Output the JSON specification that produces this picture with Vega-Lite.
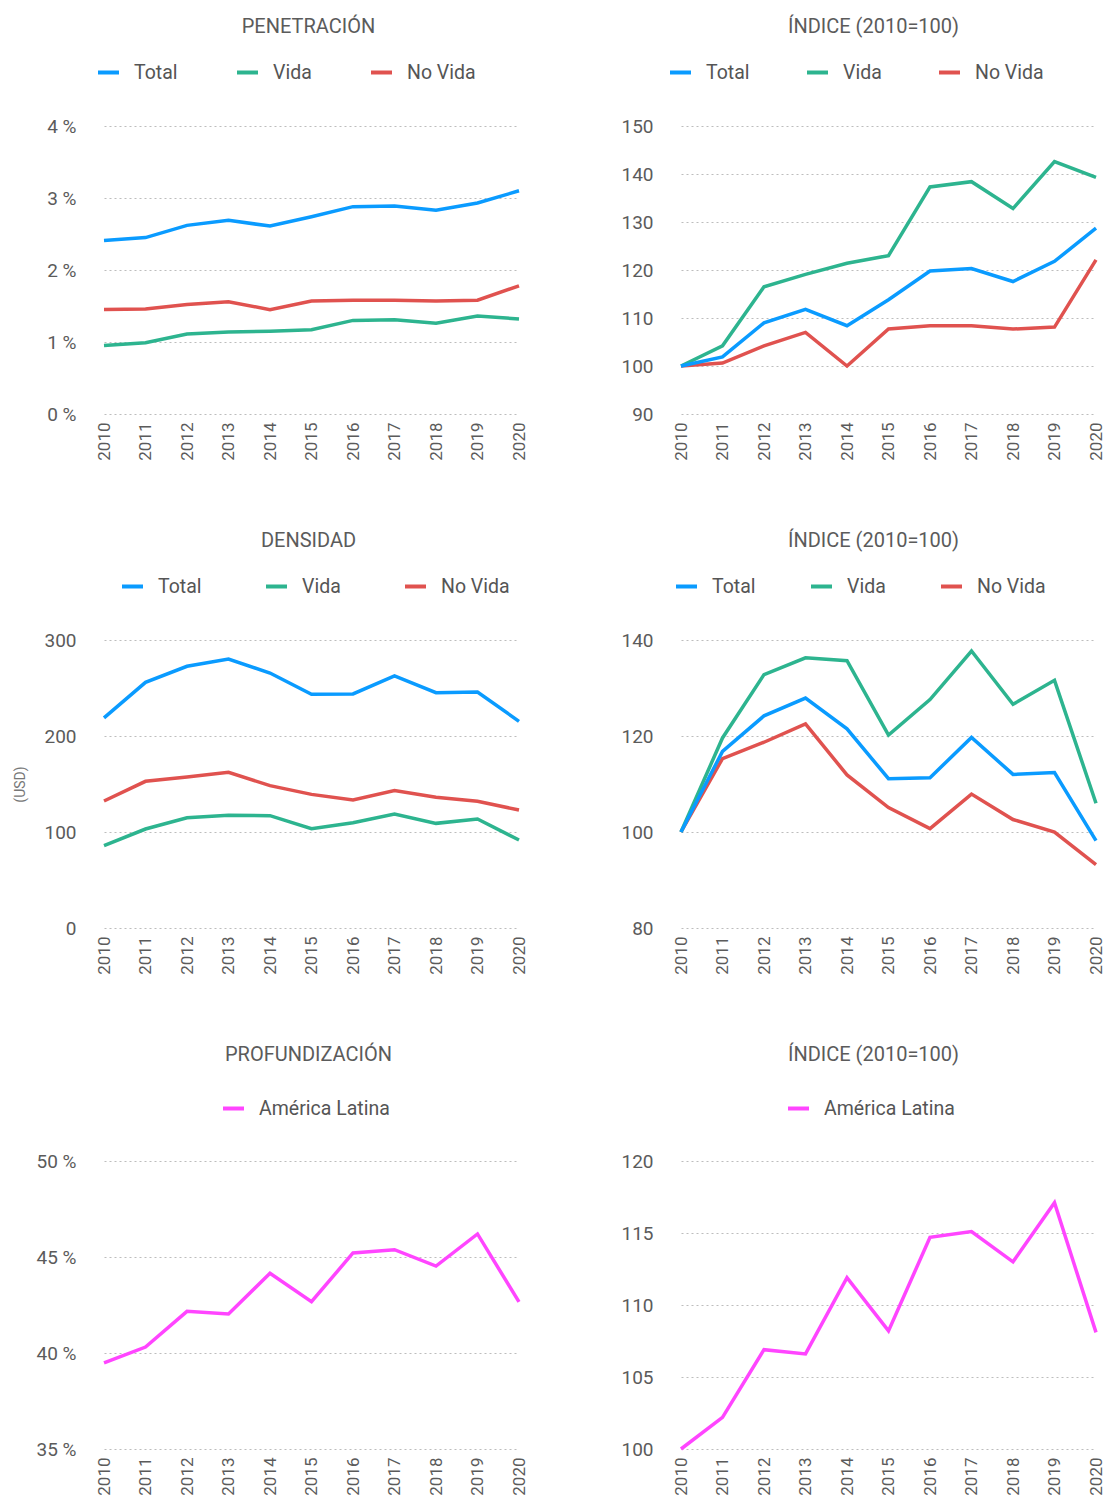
{
  "$schema": "https://vega.github.io/schema/vega-lite/v6.json",
  "background": "white",
  "padding": {"left": 13, "top": 17, "right": 0, "bottom": 0},
  "columns": 2,
  "spacing": {"row": 70, "column": 93},
  "align": "each",
  "datasets": {
    "pen": [
      {"year": 2010, "serie": "No Vida", "value": 1.45}, {"year": 2011, "serie": "No Vida", "value": 1.46}, {"year": 2012, "serie": "No Vida", "value": 1.52}, {"year": 2013, "serie": "No Vida", "value": 1.56}, {"year": 2014, "serie": "No Vida", "value": 1.45}, {"year": 2015, "serie": "No Vida", "value": 1.57}, {"year": 2016, "serie": "No Vida", "value": 1.58}, {"year": 2017, "serie": "No Vida", "value": 1.58}, {"year": 2018, "serie": "No Vida", "value": 1.57}, {"year": 2019, "serie": "No Vida", "value": 1.58}, {"year": 2020, "serie": "No Vida", "value": 1.78},
      {"year": 2010, "serie": "Vida", "value": 0.95}, {"year": 2011, "serie": "Vida", "value": 0.99}, {"year": 2012, "serie": "Vida", "value": 1.11}, {"year": 2013, "serie": "Vida", "value": 1.14}, {"year": 2014, "serie": "Vida", "value": 1.15}, {"year": 2015, "serie": "Vida", "value": 1.17}, {"year": 2016, "serie": "Vida", "value": 1.30}, {"year": 2017, "serie": "Vida", "value": 1.31}, {"year": 2018, "serie": "Vida", "value": 1.26}, {"year": 2019, "serie": "Vida", "value": 1.36}, {"year": 2020, "serie": "Vida", "value": 1.32},
      {"year": 2010, "serie": "Total", "value": 2.41}, {"year": 2011, "serie": "Total", "value": 2.45}, {"year": 2012, "serie": "Total", "value": 2.62}, {"year": 2013, "serie": "Total", "value": 2.69}, {"year": 2014, "serie": "Total", "value": 2.61}, {"year": 2015, "serie": "Total", "value": 2.74}, {"year": 2016, "serie": "Total", "value": 2.88}, {"year": 2017, "serie": "Total", "value": 2.89}, {"year": 2018, "serie": "Total", "value": 2.83}, {"year": 2019, "serie": "Total", "value": 2.93}, {"year": 2020, "serie": "Total", "value": 3.10}
    ],
    "penIdx": [
      {"year": 2010, "serie": "No Vida", "value": 100}, {"year": 2011, "serie": "No Vida", "value": 100.6}, {"year": 2012, "serie": "No Vida", "value": 104.2}, {"year": 2013, "serie": "No Vida", "value": 107.0}, {"year": 2014, "serie": "No Vida", "value": 100.0}, {"year": 2015, "serie": "No Vida", "value": 107.7}, {"year": 2016, "serie": "No Vida", "value": 108.4}, {"year": 2017, "serie": "No Vida", "value": 108.4}, {"year": 2018, "serie": "No Vida", "value": 107.7}, {"year": 2019, "serie": "No Vida", "value": 108.1}, {"year": 2020, "serie": "No Vida", "value": 122.1},
      {"year": 2010, "serie": "Vida", "value": 100}, {"year": 2011, "serie": "Vida", "value": 104.2}, {"year": 2012, "serie": "Vida", "value": 116.5}, {"year": 2013, "serie": "Vida", "value": 119.1}, {"year": 2014, "serie": "Vida", "value": 121.4}, {"year": 2015, "serie": "Vida", "value": 123.0}, {"year": 2016, "serie": "Vida", "value": 137.3}, {"year": 2017, "serie": "Vida", "value": 138.4}, {"year": 2018, "serie": "Vida", "value": 132.8}, {"year": 2019, "serie": "Vida", "value": 142.6}, {"year": 2020, "serie": "Vida", "value": 139.3},
      {"year": 2010, "serie": "Total", "value": 100}, {"year": 2011, "serie": "Total", "value": 101.9}, {"year": 2012, "serie": "Total", "value": 109.0}, {"year": 2013, "serie": "Total", "value": 111.8}, {"year": 2014, "serie": "Total", "value": 108.4}, {"year": 2015, "serie": "Total", "value": 113.8}, {"year": 2016, "serie": "Total", "value": 119.8}, {"year": 2017, "serie": "Total", "value": 120.3}, {"year": 2018, "serie": "Total", "value": 117.6}, {"year": 2019, "serie": "Total", "value": 121.8}, {"year": 2020, "serie": "Total", "value": 128.7}
    ],
    "den": [
      {"year": 2010, "serie": "No Vida", "value": 132.3}, {"year": 2011, "serie": "No Vida", "value": 152.8}, {"year": 2012, "serie": "No Vida", "value": 157.3}, {"year": 2013, "serie": "No Vida", "value": 162.2}, {"year": 2014, "serie": "No Vida", "value": 148.3}, {"year": 2015, "serie": "No Vida", "value": 139.2}, {"year": 2016, "serie": "No Vida", "value": 133.3}, {"year": 2017, "serie": "No Vida", "value": 143.1}, {"year": 2018, "serie": "No Vida", "value": 136.1}, {"year": 2019, "serie": "No Vida", "value": 132.0}, {"year": 2020, "serie": "No Vida", "value": 122.9},
      {"year": 2010, "serie": "Vida", "value": 85.8}, {"year": 2011, "serie": "Vida", "value": 103.1}, {"year": 2012, "serie": "Vida", "value": 114.9}, {"year": 2013, "serie": "Vida", "value": 117.4}, {"year": 2014, "serie": "Vida", "value": 117.0}, {"year": 2015, "serie": "Vida", "value": 103.5}, {"year": 2016, "serie": "Vida", "value": 109.7}, {"year": 2017, "serie": "Vida", "value": 118.8}, {"year": 2018, "serie": "Vida", "value": 109.0}, {"year": 2019, "serie": "Vida", "value": 113.5}, {"year": 2020, "serie": "Vida", "value": 91.7},
      {"year": 2010, "serie": "Total", "value": 218.8}, {"year": 2011, "serie": "Total", "value": 255.9}, {"year": 2012, "serie": "Total", "value": 272.6}, {"year": 2013, "serie": "Total", "value": 280.2}, {"year": 2014, "serie": "Total", "value": 265.6}, {"year": 2015, "serie": "Total", "value": 243.4}, {"year": 2016, "serie": "Total", "value": 243.8}, {"year": 2017, "serie": "Total", "value": 262.5}, {"year": 2018, "serie": "Total", "value": 245.1}, {"year": 2019, "serie": "Total", "value": 245.8}, {"year": 2020, "serie": "Total", "value": 215.3}
    ],
    "denIdx": [
      {"year": 2010, "serie": "No Vida", "value": 100}, {"year": 2011, "serie": "No Vida", "value": 115.3}, {"year": 2012, "serie": "No Vida", "value": 118.7}, {"year": 2013, "serie": "No Vida", "value": 122.5}, {"year": 2014, "serie": "No Vida", "value": 111.9}, {"year": 2015, "serie": "No Vida", "value": 105.1}, {"year": 2016, "serie": "No Vida", "value": 100.7}, {"year": 2017, "serie": "No Vida", "value": 107.9}, {"year": 2018, "serie": "No Vida", "value": 102.6}, {"year": 2019, "serie": "No Vida", "value": 100.0}, {"year": 2020, "serie": "No Vida", "value": 93.2},
      {"year": 2010, "serie": "Vida", "value": 100}, {"year": 2011, "serie": "Vida", "value": 119.6}, {"year": 2012, "serie": "Vida", "value": 132.8}, {"year": 2013, "serie": "Vida", "value": 136.3}, {"year": 2014, "serie": "Vida", "value": 135.7}, {"year": 2015, "serie": "Vida", "value": 120.2}, {"year": 2016, "serie": "Vida", "value": 127.6}, {"year": 2017, "serie": "Vida", "value": 137.7}, {"year": 2018, "serie": "Vida", "value": 126.6}, {"year": 2019, "serie": "Vida", "value": 131.6}, {"year": 2020, "serie": "Vida", "value": 106.0},
      {"year": 2010, "serie": "Total", "value": 100}, {"year": 2011, "serie": "Total", "value": 116.8}, {"year": 2012, "serie": "Total", "value": 124.2}, {"year": 2013, "serie": "Total", "value": 127.9}, {"year": 2014, "serie": "Total", "value": 121.5}, {"year": 2015, "serie": "Total", "value": 111.1}, {"year": 2016, "serie": "Total", "value": 111.3}, {"year": 2017, "serie": "Total", "value": 119.7}, {"year": 2018, "serie": "Total", "value": 112.0}, {"year": 2019, "serie": "Total", "value": 112.4}, {"year": 2020, "serie": "Total", "value": 98.2}
    ],
    "prof": [
      {"year": 2010, "serie": "América Latina", "value": 39.48}, {"year": 2011, "serie": "América Latina", "value": 40.31}, {"year": 2012, "serie": "América Latina", "value": 42.17}, {"year": 2013, "serie": "América Latina", "value": 42.03}, {"year": 2014, "serie": "América Latina", "value": 44.15}, {"year": 2015, "serie": "América Latina", "value": 42.67}, {"year": 2016, "serie": "América Latina", "value": 45.21}, {"year": 2017, "serie": "América Latina", "value": 45.38}, {"year": 2018, "serie": "América Latina", "value": 44.53}, {"year": 2019, "serie": "América Latina", "value": 46.20}, {"year": 2020, "serie": "América Latina", "value": 42.66}
    ],
    "profIdx": [
      {"year": 2010, "serie": "América Latina", "value": 100}, {"year": 2011, "serie": "América Latina", "value": 102.2}, {"year": 2012, "serie": "América Latina", "value": 106.9}, {"year": 2013, "serie": "América Latina", "value": 106.6}, {"year": 2014, "serie": "América Latina", "value": 111.9}, {"year": 2015, "serie": "América Latina", "value": 108.2}, {"year": 2016, "serie": "América Latina", "value": 114.7}, {"year": 2017, "serie": "América Latina", "value": 115.1}, {"year": 2018, "serie": "América Latina", "value": 113.0}, {"year": 2019, "serie": "América Latina", "value": 117.1}, {"year": 2020, "serie": "América Latina", "value": 108.1}
    ]
  },
  "concat": [
    {
      "title": {"text": "PENETRACIÓN", "dx": -3},
      "width": 415, "height": 288,
      "data": {"name": "pen"},
      "mark": {"type": "line", "strokeWidth": 3.5},
      "encoding": {
        "x": {"field": "year", "type": "ordinal", "scale": {"type": "point", "padding": 0}, "axis": {"title": null}},
        "y": {"field": "value", "type": "quantitative", "scale": {"domain": [0, 4]}, "axis": {"title": null, "values": [0, 1, 2, 3, 4], "labelExpr": "datum.value + ' %'"}},
        "color": {"field": "serie", "type": "nominal", "scale": {"domain": ["Total", "Vida", "No Vida"], "range": ["#0A9BFF", "#2DB48F", "#E0524F"]}, "legend": {"legendX": -8, "legendY": -66, "columnPadding": 51}}
      }
    },
    {
      "title": {"text": "ÍNDICE (2010=100)", "dx": -15},
      "width": 415, "height": 288,
      "data": {"name": "penIdx"},
      "mark": {"type": "line", "strokeWidth": 3.5},
      "encoding": {
        "x": {"field": "year", "type": "ordinal", "scale": {"type": "point", "padding": 0}, "axis": {"title": null}},
        "y": {"field": "value", "type": "quantitative", "scale": {"domain": [90, 150]}, "axis": {"title": null, "values": [90, 100, 110, 120, 130, 140, 150]}},
        "color": {"field": "serie", "type": "nominal", "scale": {"domain": ["Total", "Vida", "No Vida"], "range": ["#0A9BFF", "#2DB48F", "#E0524F"]}, "legend": {"legendX": -13, "legendY": -66, "columnPadding": 49}}
      }
    },
    {
      "title": {"text": "DENSIDAD", "dx": -3},
      "width": 415, "height": 288,
      "data": {"name": "den"},
      "mark": {"type": "line", "strokeWidth": 3.5},
      "encoding": {
        "x": {"field": "year", "type": "ordinal", "scale": {"type": "point", "padding": 0}, "axis": {"title": null}},
        "y": {"field": "value", "type": "quantitative", "scale": {"domain": [0, 300]}, "axis": {"title": "(USD)", "titleFontSize": 14, "titleFontWeight": "normal", "titleColor": "#777777", "titlePadding": 16, "values": [0, 100, 200, 300]}},
        "color": {"field": "serie", "type": "nominal", "scale": {"domain": ["Total", "Vida", "No Vida"], "range": ["#0A9BFF", "#2DB48F", "#E0524F"]}, "legend": {"legendX": 16, "legendY": -66, "columnPadding": 56}}
      }
    },
    {
      "title": {"text": "ÍNDICE (2010=100)", "dx": -15},
      "width": 415, "height": 288,
      "data": {"name": "denIdx"},
      "mark": {"type": "line", "strokeWidth": 3.5},
      "encoding": {
        "x": {"field": "year", "type": "ordinal", "scale": {"type": "point", "padding": 0}, "axis": {"title": null}},
        "y": {"field": "value", "type": "quantitative", "scale": {"domain": [80, 140]}, "axis": {"title": null, "values": [80, 100, 120, 140]}},
        "color": {"field": "serie", "type": "nominal", "scale": {"domain": ["Total", "Vida", "No Vida"], "range": ["#0A9BFF", "#2DB48F", "#E0524F"]}, "legend": {"legendX": -7, "legendY": -66, "columnPadding": 47}}
      }
    },
    {
      "title": {"text": "PROFUNDIZACIÓN", "dx": -3, "offset": 31},
      "width": 415, "height": 288,
      "data": {"name": "prof"},
      "mark": {"type": "line", "strokeWidth": 3.5},
      "encoding": {
        "x": {"field": "year", "type": "ordinal", "scale": {"type": "point", "padding": 0}, "axis": {"title": null}},
        "y": {"field": "value", "type": "quantitative", "scale": {"domain": [35, 50]}, "axis": {"title": null, "values": [35, 40, 45, 50], "labelExpr": "datum.value + ' %'"}},
        "color": {"field": "serie", "type": "nominal", "scale": {"domain": ["América Latina"], "range": ["#FF45FF"]}, "legend": {"legendX": 117, "legendY": -65}}
      }
    },
    {
      "title": {"text": "ÍNDICE (2010=100)", "dx": -15, "offset": 31},
      "width": 415, "height": 288,
      "data": {"name": "profIdx"},
      "mark": {"type": "line", "strokeWidth": 3.5},
      "encoding": {
        "x": {"field": "year", "type": "ordinal", "scale": {"type": "point", "padding": 0}, "axis": {"title": null}},
        "y": {"field": "value", "type": "quantitative", "scale": {"domain": [100, 120]}, "axis": {"title": null, "values": [100, 105, 110, 115, 120]}},
        "color": {"field": "serie", "type": "nominal", "scale": {"domain": ["América Latina"], "range": ["#FF45FF"]}, "legend": {"legendX": 105, "legendY": -65}}
      }
    }
  ],
  "resolve": {"scale": {"color": "independent", "y": "independent", "x": "independent"}, "legend": {"color": "independent"}},
  "config": {
    "font": "Roboto",
    "view": {"stroke": null},
    "axis": {"domain": false, "ticks": false, "labelColor": "#5b5b5b", "labelFont": "Roboto"},
    "axisX": {"grid": false, "labelAngle": -90, "labelFontSize": 17, "labelPadding": 8},
    "axisY": {"grid": true, "gridColor": "#bdbdbd", "gridDash": [2, 3], "gridWidth": 1, "labelFontSize": 19, "labelPadding": 28},
    "title": {"fontSize": 20, "fontWeight": "normal", "color": "#5b5b5b", "anchor": "middle", "font": "Roboto", "offset": 23},
    "legend": {"orient": "none", "direction": "horizontal", "title": null, "symbolType": "stroke", "symbolSize": 441, "symbolStrokeWidth": 4, "labelFontSize": 19.5, "labelFont": "Roboto", "labelColor": "#555555", "labelOffset": 13, "padding": 0}
  }
}
